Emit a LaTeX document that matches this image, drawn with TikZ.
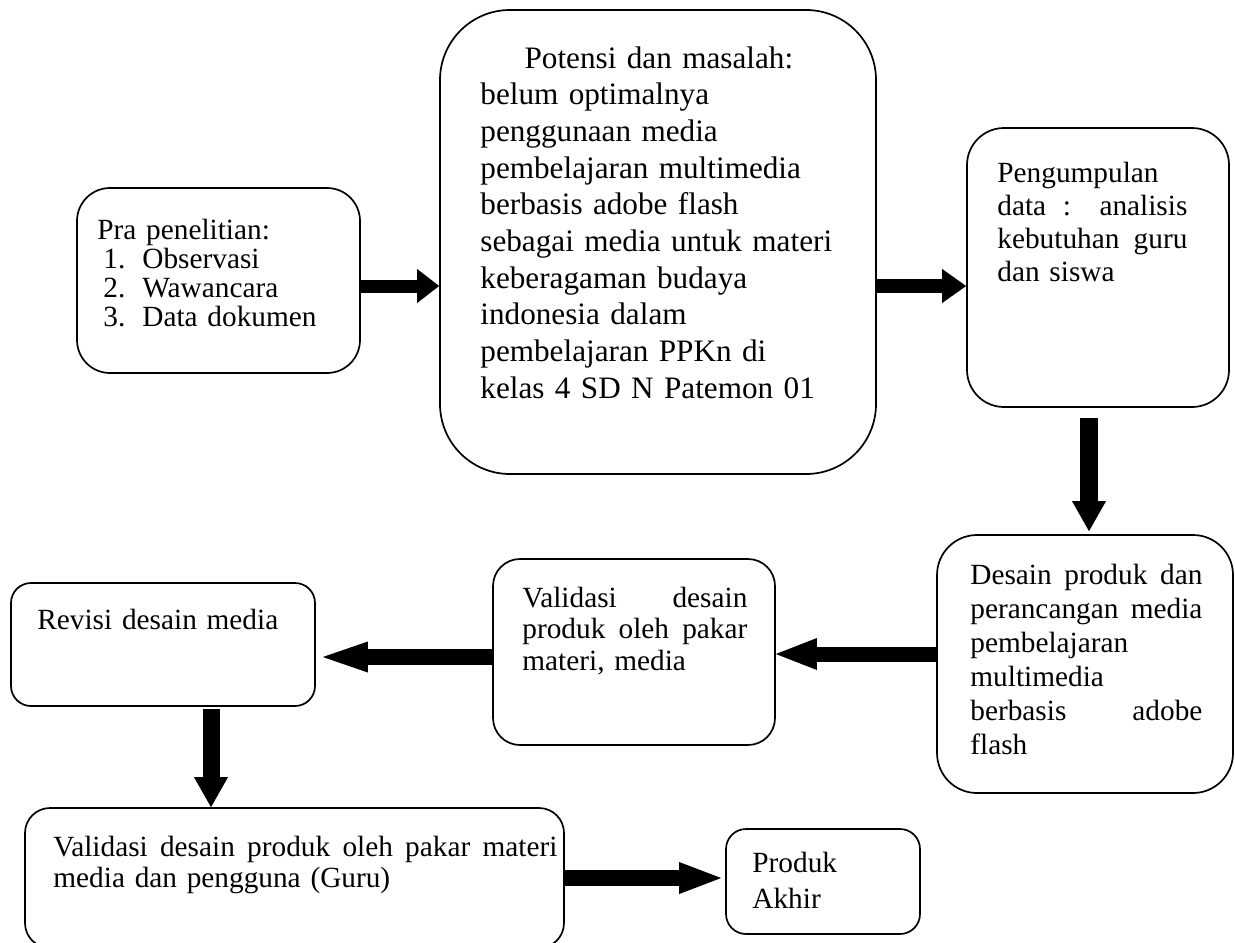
\documentclass[tikz,border=0pt]{standalone}
\usepackage{fontspec}
\setmainfont{Liberation Serif}
\usetikzlibrary{arrows.meta,fit,calc}
\newcommand{\jus}[2]{\makebox[#1][s]{\spaceskip=0pt\xspaceskip=0pt #2}}
\begin{document}
\begin{tikzpicture}[x=0.5pt,y=-0.5pt,
  box/.style={draw, line width=0.85pt, inner sep=0pt, rounded corners=#1},
  txt/.style={inner sep=0pt, anchor=base west},
  fa/.style={font={\fontsize{14.65pt}{#1}\selectfont}},
  blk/.style n args={3}{line width=#1, -{Triangle[width=#2, length=#3, line width=0pt]}}
]
\useasboundingbox (0,0) rectangle (1235,942);

% boxes
\node[box=16.5pt, fit={(77,188) (360,373)}] (b1) {};
\node[box=35pt,   fit={(440,10) (876,474)}] (b2) {};
\node[box=18.5pt, fit={(967,128) (1229,407)}] (b3) {};
\node[box=20pt,   fit={(937,535) (1233,793)}] (b4) {};
\node[box=13.5pt, fit={(493,559) (775,745)}] (b5) {};
\node[box=10pt,   fit={(11,583) (315,706)}] (b6) {};
\node[box=12.5pt, fit={(25,808) (564,948)}] (b7) {};
\node[box=10pt,   fit={(726,829) (920,934)}] (b8) {};

% texts
\node[txt, fa=14.5pt, text width=120pt] (t1) at (97,239) {Pra penelitian:\\
\hspace*{3pt}\makebox[19.5pt][l]{1.}Observasi\\
\hspace*{3pt}\makebox[19.5pt][l]{2.}Wawancara\\
\hspace*{3pt}\makebox[19.5pt][l]{3.}Data dokumen};

\node[txt, text width=195pt, font={\fontsize{15.6pt}{18.35pt}\selectfont}] (t2) at (480,68)
{\makebox[178.5pt][c]{Potensi dan masalah:}\\
belum optimalnya\\
penggunaan media\\
pembelajaran multimedia\\
berbasis adobe flash\\
sebagai media untuk materi\\
keberagaman budaya\\
indonesia dalam\\
pembelajaran PPKn di\\
kelas 4 SD N Patemon 01};

\node[txt, fa=16.5pt, text width=100pt] (t3) at (997,182)
{Pengumpulan\\ \jus{95pt}{data : analisis}\\ \jus{95pt}{kebutuhan guru}\\ dan siswa};

\node[txt, fa=17pt, text width=120pt] (t4) at (970,584)
{\jus{116pt}{Desain produk dan}\\ \jus{116pt}{perancangan media}\\ pembelajaran\\ multimedia\\ \jus{116pt}{berbasis adobe}\\ flash};

\node[txt, fa=15.75pt, text width=116pt] (t5) at (522,607)
{\jus{112.5pt}{Validasi desain}\\ \jus{112.5pt}{produk oleh pakar}\\ materi, media};

\node[txt, fa=15pt, text width=130pt] (t6) at (37,629) {Revisi desain media};

\node[txt, fa=15.5pt, text width=256pt] (t7) at (53,856)
{\jus{252pt}{Validasi desain produk oleh pakar materi}\\ media dan pengguna (Guru)};

\node[txt, fa=18.35pt, text width=70pt] (t8) at (752,872) {Produk\\ Akhir};

% arrows
\coordinate (a1s) at ([shift={(0,5.5)}]b1.east);
\draw[blk={6.5pt}{17pt}{11pt}] (a1s) -- (a1s -| b2.west);
\draw[blk={7pt}{17pt}{12pt}] (b2.east |- a1s) -- (b3.west |- a1s);

\coordinate (a3s) at ([shift={(-9,10)}]b3.south);
\coordinate (a3e) at (a3s |- b4.north);
\draw[blk={9pt}{17pt}{15pt}] (a3s) -- ([shift={(0,-3)}]a3e);

\coordinate (a4s) at ([shift={(0,-10)}]b4.west);
\coordinate (a4e) at (a4s -| b5.east);
\draw[blk={7.5pt}{16pt}{20.5pt}] (a4s) -- (a4e);

\coordinate (a5s) at ([shift={(0,5)}]b5.west);
\coordinate (a5e) at (a5s -| b6.east);
\draw[blk={8pt}{15.5pt}{22.5pt}] (a5s) -- ([shift={(7,0)}]a5e);

\coordinate (a6s) at ([shift={(48,2)}]b6.south);
\coordinate (a6e) at (a6s |- b7.north);
\draw[blk={8.5pt}{17pt}{15pt}] (a6s) -- (a6e);

\coordinate (a7e) at ([shift={(-4,-3.5)}]b8.west);
\coordinate (a7s) at (a7e -| b7.east);
\draw[blk={8pt}{16pt}{21pt}] (a7s) -- (a7e);
\end{tikzpicture}
\end{document}
